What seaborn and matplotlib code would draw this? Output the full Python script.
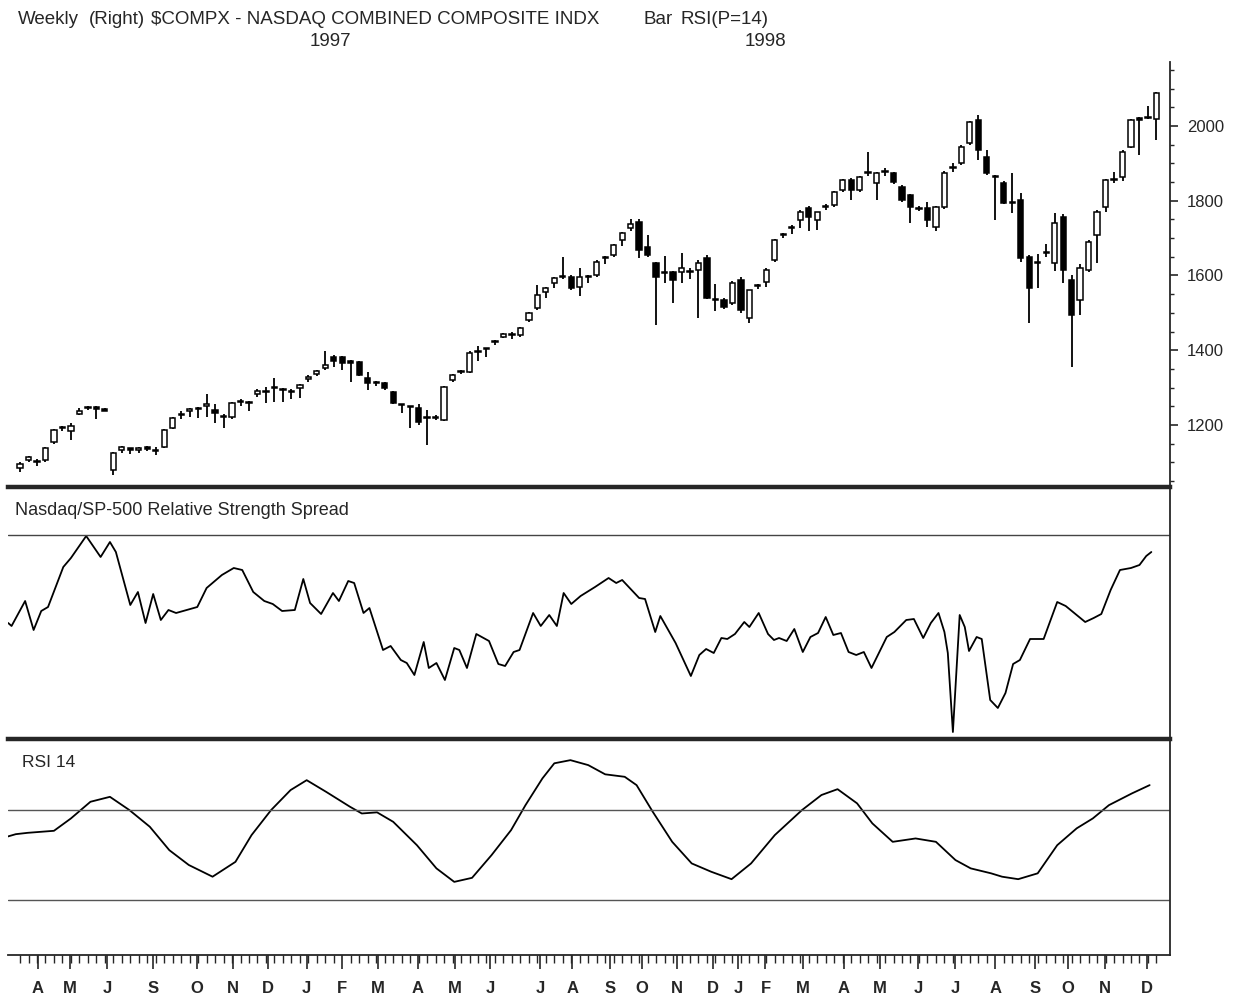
import numpy as np
import matplotlib
matplotlib.use("Agg")
import matplotlib.pyplot as plt
from matplotlib.ticker import MultipleLocator, FixedLocator
import seaborn as sns

# weekly candles, $COMPX (one entry per week, index 0..134)
OPEN = [1085, 1106, 1101, 1106, 1155, 1191, 1183, 1230, 1246, 1246, 1244,
        1080, 1134, 1135, 1134, 1140, 1132, 1142, 1192, 1230, 1236, 1244, 1252, 1240, 1223, 1220,
        1261, 1260, 1284, 1288, 1298, 1296, 1290, 1300, 1322, 1337, 1352, 1382, 1382, 1370, 1368,
        1326, 1313, 1312, 1288, 1255, 1249, 1245, 1220, 1219, 1213,
        1320, 1342, 1342, 1395, 1404, 1421, 1436, 1442, 1441, 1481, 1513, 1556, 1580, 1597, 1596,
        1569, 1598, 1601, 1646, 1655, 1695, 1728,
        1743, 1676, 1633, 1606, 1609, 1609, 1612, 1614, 1647, 1536, 1534, 1526, 1588, 1486, 1571,
        1582, 1641, 1707, 1728, 1748, 1780, 1748, 1783, 1788, 1828, 1855, 1828, 1873, 1847, 1876,
        1874, 1836, 1815, 1778, 1780, 1730,
        1783, 1888, 1901, 1954, 2016, 1917, 1866, 1847, 1796, 1802, 1649, 1634, 1660, 1633, 1756,
        1588, 1534, 1614, 1708, 1783, 1856, 1863, 1943, 2020, 2020, 2018]
HIGH = [1100, 1118, 1110, 1142, 1190, 1198, 1206, 1245, 1250, 1250, 1246,
        1128, 1145, 1138, 1140, 1145, 1140, 1190, 1222, 1236, 1245, 1248, 1282, 1255, 1228, 1262,
        1270, 1265, 1296, 1302, 1326, 1300, 1296, 1310, 1334, 1346, 1398, 1386, 1385, 1374, 1372,
        1342, 1318, 1316, 1292, 1257, 1252, 1256, 1240, 1226, 1305,
        1336, 1348, 1398, 1412, 1406, 1426, 1446, 1448, 1462, 1502, 1575, 1570, 1596, 1650, 1600,
        1620, 1602, 1640, 1652, 1685, 1716, 1750,
        1750, 1708, 1636, 1652, 1612, 1660, 1620, 1640, 1655, 1578, 1540, 1586, 1596, 1561, 1578,
        1620, 1698, 1714, 1735, 1775, 1786, 1770, 1790, 1826, 1858, 1860, 1866, 1930, 1877, 1888,
        1878, 1842, 1818, 1785, 1796, 1786,
        1880, 1900, 1948, 2012, 2030, 1935, 1870, 1852, 1874, 1820, 1655, 1658, 1683, 1766, 1764,
        1600, 1630, 1695, 1774, 1858, 1878, 1935, 2018, 2024, 2054, 2090]
LOW = [1075, 1100, 1090, 1100, 1150, 1184, 1160, 1226, 1240, 1215, 1236,
       1066, 1125, 1122, 1125, 1130, 1120, 1138, 1188, 1215, 1220, 1218, 1220, 1205, 1192, 1215,
       1250, 1238, 1275, 1258, 1262, 1262, 1270, 1273, 1316, 1330, 1346, 1355, 1347, 1315, 1330,
       1294, 1305, 1294, 1255, 1232, 1192, 1200, 1146, 1212, 1210,
       1314, 1336, 1338, 1370, 1382, 1414, 1432, 1430, 1436, 1476, 1508, 1540, 1566, 1590, 1560,
       1545, 1580, 1596, 1630, 1650, 1680, 1720,
       1647, 1650, 1467, 1580, 1526, 1580, 1590, 1486, 1538, 1505, 1510, 1520, 1500, 1474, 1564,
       1570, 1635, 1700, 1712, 1726, 1718, 1722, 1776, 1784, 1824, 1802, 1824, 1866, 1802, 1866,
       1844, 1796, 1740, 1772, 1730, 1718,
       1778, 1876, 1896, 1950, 1909, 1870, 1748, 1792, 1767, 1636, 1473, 1566, 1650, 1611, 1580,
       1355, 1494, 1608, 1633, 1770, 1846, 1852, 1940, 1922, 2018, 1962]
CLOSE = [1095, 1114, 1102, 1138, 1187, 1193, 1198, 1238, 1247, 1244, 1238,
         1125, 1140, 1134, 1136, 1136, 1131, 1187, 1219, 1226, 1242, 1243, 1254, 1232, 1222, 1259,
         1263, 1259, 1290, 1290, 1299, 1294, 1289, 1306, 1328, 1343, 1360, 1372, 1366, 1366, 1334,
         1312, 1312, 1299, 1259, 1253, 1247, 1208, 1219, 1220, 1302,
         1334, 1343, 1392, 1396, 1403, 1423, 1443, 1441, 1459, 1499, 1548, 1566, 1593, 1596, 1566,
         1596, 1596, 1636, 1647, 1681, 1713, 1738,
         1668, 1655, 1596, 1607, 1588, 1620, 1609, 1633, 1540, 1534, 1516, 1580, 1508, 1561, 1572,
         1614, 1695, 1708, 1727, 1770, 1756, 1770, 1784, 1823, 1855, 1828, 1863, 1875, 1874, 1878,
         1850, 1802, 1783, 1781, 1748, 1783,
         1874, 1891, 1943, 2010, 1935, 1874, 1863, 1794, 1794, 1647, 1566, 1637, 1664, 1740, 1614,
         1494, 1620, 1689, 1770, 1855, 1859, 1930, 2016, 2016, 2024, 2088]

# Nasdaq/SP-500 relative strength spread (week, value)
SPREAD_WEEK = [-1.4, -1.0, 0.6, 1.6, 2.5, 3.3, 5.1, 6.0, 7.8, 9.5, 10.6, 11.3, 13.0, 13.9,
               14.8, 15.7, 16.6, 17.5, 18.4, 20.9, 22.0, 23.8, 25.2, 26.2, 27.5, 28.8, 29.8,
               30.9, 32.4, 33.4, 34.2, 35.5, 36.9, 37.6, 38.7, 39.4, 40.5, 41.2, 42.8, 43.7,
               44.9, 45.6, 46.5, 47.6, 48.2, 49.1, 50.1, 51.2, 51.8, 52.7, 53.8, 55.3, 56.4,
               57.2, 58.2, 58.9, 60.5, 61.4, 62.4, 63.3, 64.1, 65.0, 66.1,
               67.8, 69.4, 70.3, 71.0, 73.0, 73.7, 74.9, 75.5, 77.3, 79.1, 80.1, 80.9, 81.8,
               82.7, 83.4, 84.3, 85.4, 86.0, 87.1, 88.2, 88.9, 89.5, 90.4, 91.3, 92.3, 93.2,
               94.1, 95.0, 95.9, 96.8, 97.7, 98.6, 99.5, 100.4, 102.2, 103.1, 104.5, 105.4,
               106.5, 107.4, 108.3, 109.0, 109.4, 110.0, 110.8, 111.4, 111.9, 112.8, 113.4,
               114.4, 115.3, 116.2, 117.1, 117.9, 119.1, 120.7, 122.3, 123.3, 125.6, 126.6,
               127.5, 128.6, 129.7, 131.0, 132.0, 132.8, 133.4]
SPREAD_VAL = [-8.8, -9.1, -6.6, -9.5, -7.6, -7.2, -3.2, -2.3, -0.1, -2.2, -0.7, -1.7, -7.0,
              -5.7, -8.8, -5.9, -8.5, -7.5, -7.8, -7.2, -5.3, -4.0, -3.3, -3.5, -5.7, -6.6,
              -6.9, -7.6, -7.5, -4.4, -6.8, -7.9, -5.8, -6.6, -4.6, -4.8, -7.8, -7.3, -11.5,
              -11.1, -12.5, -12.8, -14.0, -10.7, -13.3, -12.8, -14.5, -11.3, -11.5, -13.3,
              -9.9, -10.6, -12.9, -13.1, -11.7, -11.5, -7.8, -9.1, -8.0, -9.1, -5.8, -6.9, -6.1,
              -5.2, -4.3, -4.8, -4.5, -6.3, -6.4, -9.7, -8.1, -10.8, -14.1, -12.0, -11.4, -11.8,
              -10.3, -10.4, -9.9, -8.7, -9.2, -7.8, -9.9, -10.5, -10.3, -10.6, -9.4, -11.7,
              -10.2, -9.8, -8.2, -10.0, -9.8, -11.7, -12.0, -11.7, -13.3, -10.2, -9.7, -8.5,
              -8.4, -10.3, -8.8, -7.8, -9.7, -11.8, -19.7, -8.0, -9.2, -11.6, -10.2, -10.4,
              -16.5, -17.3, -15.8, -12.9, -12.5, -10.4, -10.4, -6.7, -7.1, -8.7, -8.3, -7.9,
              -5.5, -3.5, -3.3, -3.0, -2.1, -1.7]

# RSI(14)
RSI_WEEK = [-1.6, -0.5, 0.9, 4.0, 6.0, 8.3, 10.6, 12.9, 15.3, 17.6, 19.9, 22.7, 25.4, 27.3,
            29.6, 31.9, 33.8, 36.1, 38.9, 40.3, 42.1, 44.0, 46.8, 49.1, 51.2, 53.3, 55.6, 57.9,
            59.6, 61.6, 63.0, 64.9, 67.0, 69.0, 71.3, 72.7, 74.6, 76.9, 79.2, 81.5, 83.9, 86.2,
            89.0, 92.2, 94.5, 96.4, 98.7, 100.5, 102.9, 105.6, 108.0, 110.3, 112.1, 114.5,
            115.8, 117.7, 120.0, 122.3, 124.6, 126.5, 128.4, 131.1, 133.2]
RSI_VAL = [58.1, 59.3, 59.9, 60.8, 66.3, 73.7, 75.9, 70.0, 62.6, 52.2, 45.6, 40.4, 47.0, 58.9,
           70.0, 78.9, 83.3, 78.1, 71.5, 68.5, 69.0, 64.8, 54.4, 44.1, 38.1, 39.9, 50.0, 61.1,
           72.2, 84.1, 90.8, 92.2, 90.0, 85.9, 84.8, 81.1, 69.3, 55.9, 46.3, 42.6, 39.3, 46.3,
           58.9, 70.0, 76.7, 79.3, 73.0, 64.1, 55.9, 57.4, 55.9, 47.8, 44.1, 41.9, 40.4, 39.3,
           41.9, 54.4, 61.9, 66.3, 72.2, 77.4, 81.1]
RSI_LEVELS = [70, 30]

MONTH_POS = [2.1, 5.9, 10.3, 15.7, 20.9, 25.1, 29.2, 33.8, 38.0, 42.2, 46.9, 51.3, 55.4,
             61.3, 65.1, 69.6, 73.3, 77.5, 81.7, 84.7, 87.9, 92.3, 97.1, 101.4, 105.9, 110.3,
             115.0, 119.7, 123.6, 127.9, 132.9]
MONTH_LBL = ["A", "M", "J", "S", "O", "N", "D", "J", "F", "M", "A", "M", "J", "J", "A",
             "S", "O", "N", "D", "J", "F", "M", "A", "M", "J", "J", "A", "S", "O", "N", "D"]
PRICE_TICKS = [1200, 1400, 1600, 1800, 2000]

sns.set_style("white")
plt.rcParams["font.family"] = ["Liberation Sans", "DejaVu Sans"]

W, H = 1233, 1000
fig = plt.figure(figsize=(W / 100, H / 100), dpi=100)


def frac_box(x0, y0, x1, y1):
    return [x0 / W, 1 - y1 / H, (x1 - x0) / W, (y1 - y0) / H]


ax_p = fig.add_axes(frac_box(8, 62, 1170, 487))
ax_s = fig.add_axes(frac_box(8, 487, 1170, 739), sharex=ax_p)
ax_r = fig.add_axes(frac_box(8, 739, 1170, 955), sharex=ax_p)

XLIM = (-1.42, 135.6)

# ---- candles
idx = np.arange(len(CLOSE))
o = np.array(OPEN, dtype=float)
c = np.array(CLOSE, dtype=float)
up = c >= o
bottom = np.minimum(o, c)
height = np.maximum(np.abs(c - o), 3)
ax_p.vlines(idx, LOW, HIGH, color="black", lw=1.3, zorder=2)
ax_p.bar(idx[up], height[up], bottom=bottom[up], width=0.62, color="white",
         edgecolor="black", lw=1.1, zorder=3)
ax_p.bar(idx[~up], height[~up], bottom=bottom[~up], width=0.62, color="black",
         edgecolor="black", lw=1.1, zorder=3)
ax_p.set_xlim(*XLIM)
ax_p.set_ylim(1034, 2171)
ax_p.yaxis.tick_right()
ax_p.set_yticks(PRICE_TICKS)
ax_p.yaxis.set_minor_locator(MultipleLocator(50))
ax_p.tick_params(axis="y", which="major", direction="out", length=6, width=1.2,
                 labelsize=12, pad=6, right=True, left=False)
ax_p.tick_params(axis="y", which="minor", direction="out", length=3, width=1, right=True, left=False)
ax_p.tick_params(axis="x", bottom=False, labelbottom=False)
for side in ["left", "top", "bottom"]:
    ax_p.spines[side].set_visible(False)
ax_p.spines["right"].set_linewidth(1.3)

# ---- relative strength spread
sns.lineplot(x=SPREAD_WEEK, y=SPREAD_VAL, ax=ax_s, color="black", lw=1.3,
             sort=False, estimator=None)
ax_s.axhline(0, color="#444444", lw=1.0)
ax_s.set_ylim(-20.4, 4.8)
ax_s.set_yticks([])
ax_s.tick_params(axis="x", bottom=False, labelbottom=False)
ax_s.spines["left"].set_visible(False)
ax_s.spines["bottom"].set_visible(False)
ax_s.spines["top"].set_linewidth(3.2)
ax_s.spines["right"].set_linewidth(1.3)
ax_s.text(0.006, 0.905, "Nasdaq/SP-500 Relative Strength Spread", transform=ax_s.transAxes,
          fontsize=13, va="center", ha="left")

# ---- RSI
sns.lineplot(x=RSI_WEEK, y=RSI_VAL, ax=ax_r, color="black", lw=1.3,
             sort=False, estimator=None)
for lvl in RSI_LEVELS:
    ax_r.axhline(lvl, color="#555555", lw=1.0)
ax_r.set_ylim(5.6, 101.6)
ax_r.set_yticks([])
ax_r.spines["left"].set_visible(False)
ax_r.spines["top"].set_linewidth(3.2)
ax_r.spines["right"].set_linewidth(1.3)
ax_r.spines["bottom"].set_linewidth(1.3)
ax_r.text(0.012, 0.89, "RSI 14", transform=ax_r.transAxes, fontsize=12.5,
          va="center", ha="left")
ax_r.set_xticks(MONTH_POS)
ax_r.set_xticklabels(MONTH_LBL, fontweight="bold")
ax_r.xaxis.set_minor_locator(FixedLocator(idx))
ax_r.tick_params(axis="x", which="major", direction="out", length=10, width=1.2,
                 labelsize=12, pad=9, bottom=True)
ax_r.tick_params(axis="x", which="minor", direction="out", length=6, width=1.0, bottom=True)
ax_r.set_xlim(*XLIM)
for ax in (ax_p, ax_s, ax_r):
    ax.set_xlabel("")
    ax.set_ylabel("")
    ax.set_facecolor("white")

# ---- header
hdr = dict(fontsize=13.5, va="center")
fig.text(18 / W, 1 - 19 / H, "Weekly", ha="left", **hdr)
fig.text(145 / W, 1 - 19 / H, "(Right)", ha="right", **hdr)
fig.text(151 / W, 1 - 19 / H, "\\$COMPX - NASDAQ COMBINED COMPOSITE INDX", ha="left", **hdr)
fig.text(673 / W, 1 - 19 / H, "Bar", ha="right", **hdr)
fig.text(681 / W, 1 - 19 / H, "RSI(P=14)", ha="left", **hdr)
fig.text(330 / W, 1 - 41 / H, "1997", fontsize=13.5, va="center", ha="center")
fig.text(765 / W, 1 - 41 / H, "1998", fontsize=13.5, va="center", ha="center")

fig.savefig("out.png", dpi=100, facecolor="white")
